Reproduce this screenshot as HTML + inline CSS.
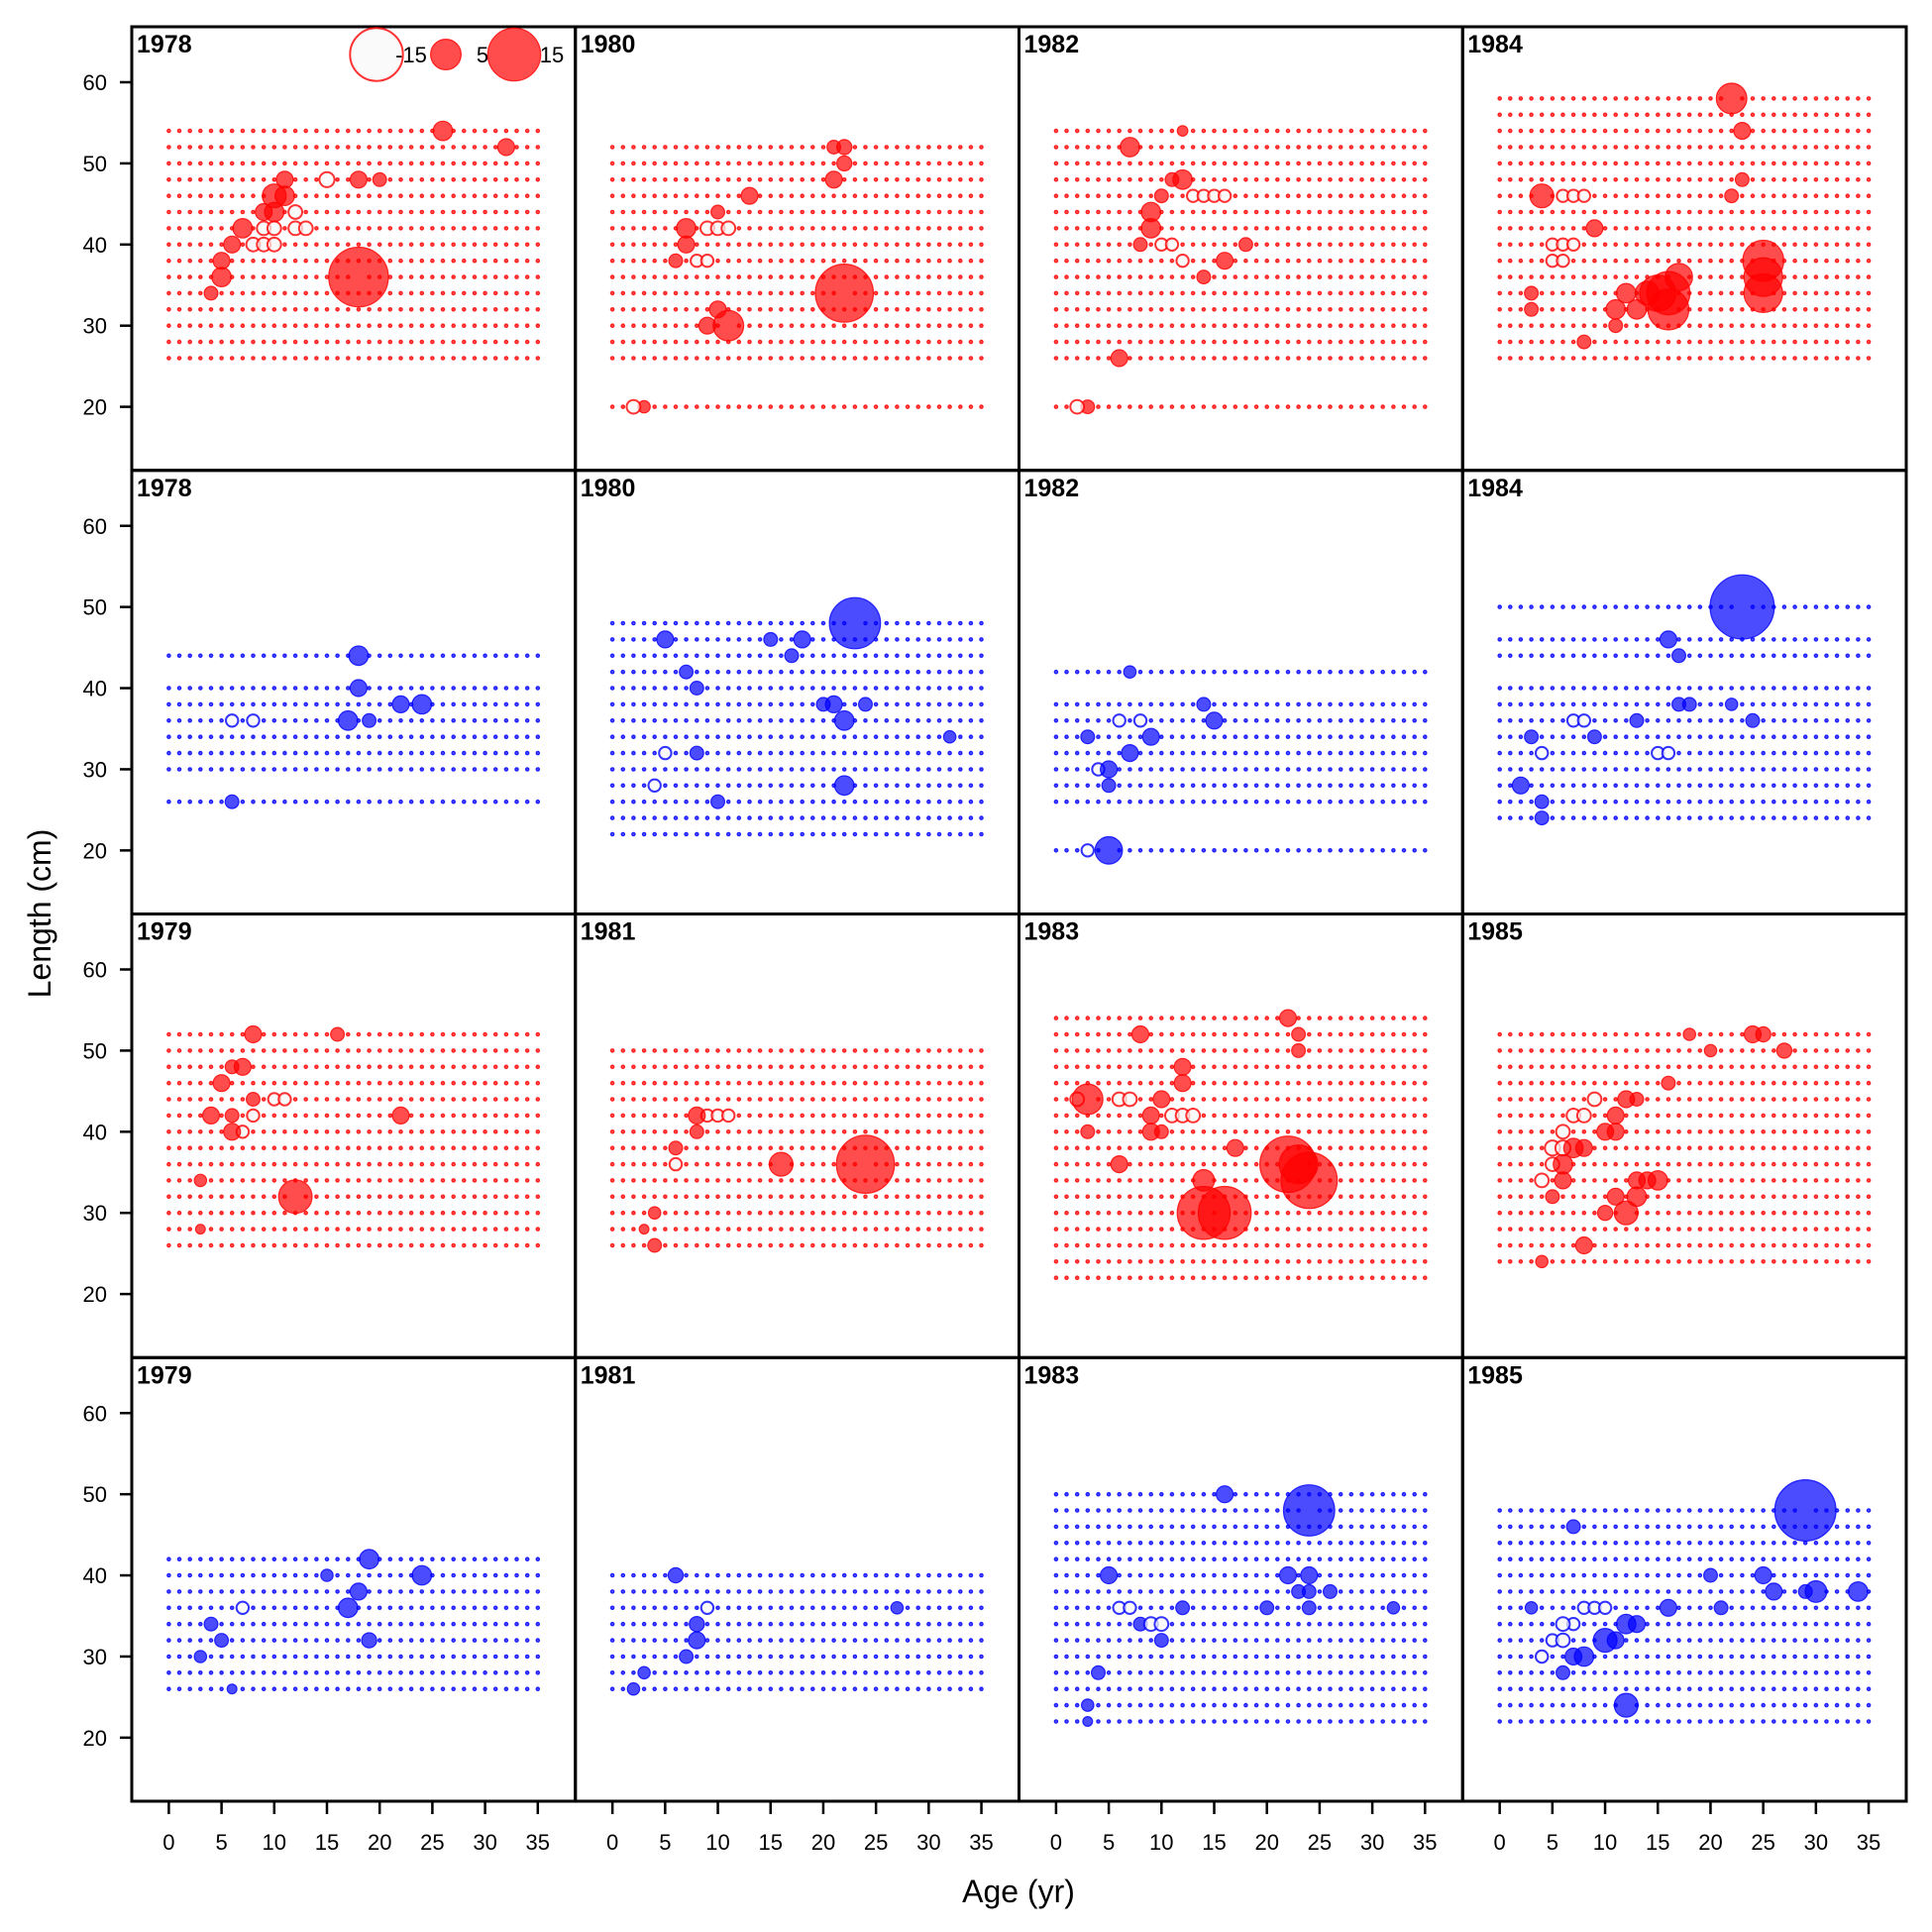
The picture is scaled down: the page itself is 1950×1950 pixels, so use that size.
<!DOCTYPE html>
<html><head><meta charset="utf-8"><style>
html,body{margin:0;padding:0;background:#fff;}
svg{display:block;font-family:"Liberation Sans",Arial,sans-serif;}
</style></head><body>
<svg id="chart" width="1950" height="1950" viewBox="0 0 1950 1950" xmlns="http://www.w3.org/2000/svg">
<g id="marks"></g>
<g id="frames"></g>
<g id="axes"></g>
<text x="1028" y="1920" font-size="32" text-anchor="middle">Age (yr)</text>
<text x="0" y="0" font-size="32" text-anchor="middle" transform="translate(51,922) rotate(-90)">Length (cm)</text>
</svg>
<script>
const panelYears = ["1978","1980","1982","1984","1978","1980","1982","1984","1979","1981","1983","1985","1979","1981","1983","1985"];
const panelColors = ["r","r","r","r","b","b","b","b","r","r","r","r","b","b","b","b"];
function rng(a,b){const o=[];for(let v=a;v<=b;v+=2)o.push(v);return o;}
const panelLengths = [
 rng(26,54), [20].concat(rng(26,52)), [20].concat(rng(26,54)), rng(26,58),
 [26,30,32,34,36,38,40,44], rng(22,48), [20,26,28,30,32,34,36,38,42], [24,26,28,30,32,34,36,38,40,44,46,50],
 rng(26,52), rng(26,50), rng(22,54), rng(24,52),
 rng(26,42), rng(26,40), rng(22,50), rng(22,48)
];
const panelBubbles = [
 [[18,36,19],[26,54,2],[32,52,1.5],[11,46,2],[10,46,3],[7,42,2],[9,44,1.5],[10,44,2],[5,36,2],[5,38,1.5],[6,40,1.5],[4,34,1],[11,48,1.5],[18,48,1.5],[20,48,1],[9,42,-1],[10,42,-1],[12,42,-1],[13,42,-1],[8,40,-1],[9,40,-1],[10,40,-1],[12,44,-1],[15,48,-1.2]],
 [[22,34,18],[11,30,5],[9,30,1.5],[10,32,1.5],[7,42,2],[7,40,1.5],[10,44,1],[13,46,1.5],[21,48,1.5],[22,50,1.2],[22,52,1.2],[21,52,1],[6,38,1],[2,20,-1],[3,20,0.8],[9,42,-1],[10,42,-1],[11,42,-1],[8,38,-0.8],[9,38,-0.8]],
 [[7,52,2],[12,48,2],[11,48,1],[9,44,2],[9,42,2],[8,40,1],[14,36,1],[16,38,1.5],[18,40,1],[6,26,1.5],[3,20,1],[2,20,-1],[10,46,1],[12,54,0.6],[13,46,-0.8],[14,46,-0.8],[15,46,-0.8],[16,46,-0.8],[10,40,-0.8],[11,40,-0.8],[12,38,-0.8]],
 [[22,58,5],[23,54,1.5],[4,46,3],[25,38,9],[25,36,8],[25,34,8],[16,34,10],[16,32,9],[15,34,7],[17,36,4],[14,34,3],[11,32,2],[11,30,1],[8,28,1],[13,32,2],[3,34,1],[3,32,1],[9,42,1.5],[12,34,2],[23,48,1],[22,46,1],[6,46,-0.8],[7,46,-0.8],[8,46,-0.8],[5,40,-0.8],[6,40,-0.8],[7,40,-0.8],[5,38,-0.8],[6,38,-0.8]],
 [[18,44,2],[18,40,1.5],[17,36,2],[22,38,1.5],[24,38,2],[6,26,1],[19,36,1],[6,36,-0.8],[8,36,-0.8]],
 [[23,48,14],[5,46,1.5],[15,46,1],[18,46,1.5],[17,44,1],[7,42,1],[8,40,1],[21,38,1.5],[22,36,2],[24,38,1],[22,28,2],[10,26,1],[8,32,1],[32,34,0.8],[20,38,1],[4,28,-0.8],[5,32,-0.8]],
 [[5,20,4],[7,42,0.8],[7,32,1.5],[9,34,1.5],[5,30,1.5],[5,28,1],[15,36,1.5],[14,38,1],[3,34,1],[3,20,-0.8],[6,36,-0.8],[8,36,-0.8],[4,30,-0.8]],
 [[23,50,22],[16,46,1.5],[17,44,1],[18,38,1],[17,38,1],[22,38,0.8],[24,36,1],[13,36,1],[9,34,1],[2,28,1.5],[4,26,1],[4,24,1],[3,34,1],[7,36,-0.8],[8,36,-0.8],[15,32,-0.8],[16,32,-0.8],[4,32,-0.8]],
 [[12,32,6],[22,42,1.5],[8,52,1.5],[7,48,1.5],[6,48,1],[5,46,1.5],[4,42,1.5],[6,42,1],[6,40,1.5],[8,44,1],[16,52,1],[3,34,0.8],[3,28,0.5],[7,40,-0.8],[10,44,-0.8],[11,44,-0.8],[8,42,-0.8]],
 [[24,36,18],[16,36,3],[8,42,1.5],[8,40,1],[6,38,1],[4,30,0.8],[4,26,1],[3,28,0.5],[9,42,-0.8],[10,42,-0.8],[11,42,-0.8],[6,36,-0.8]],
 [[22,36,17],[24,34,17],[23,36,8],[14,30,15],[16,30,15],[3,44,5],[14,34,2.5],[17,38,1.5],[8,52,1.5],[22,54,1.5],[10,44,1.5],[9,42,1.5],[9,40,1.5],[12,46,1.5],[6,36,1.5],[3,40,1],[10,40,1],[23,50,1],[23,52,1],[12,48,1.5],[2,44,-1],[6,44,-1],[7,44,-1],[11,42,-1],[12,42,-1],[13,42,-1]],
 [[8,26,1.5],[12,30,3],[10,30,1.2],[11,32,1.5],[13,32,2],[15,34,2],[13,34,1.5],[14,34,1.5],[6,36,2],[6,34,1.5],[7,38,2],[8,38,1.5],[5,32,1],[11,40,1.5],[10,40,1.5],[11,42,1.5],[12,44,1.5],[13,44,1],[16,46,1],[24,52,1.5],[25,52,1.2],[27,50,1.2],[20,50,0.8],[18,52,0.8],[4,24,0.8],[5,38,-1.2],[6,40,-1],[7,42,-1],[8,42,-1],[9,44,-1],[5,36,-1],[4,34,-1],[6,38,-1.2]],
 [[19,42,2],[24,40,2],[18,38,1.5],[17,36,2],[19,32,1.2],[15,40,0.8],[4,34,1],[5,32,1],[3,30,0.8],[6,26,0.5],[7,36,-0.8]],
 [[6,40,1.2],[8,32,1.5],[8,34,1.2],[27,36,0.8],[7,30,1],[3,28,0.8],[2,26,0.8],[9,36,-0.8]],
 [[24,48,14],[16,50,1.5],[5,40,1.5],[22,40,1.5],[24,40,1.5],[26,38,1],[23,38,1],[24,38,1],[32,36,0.8],[20,36,1],[24,36,1],[12,36,1],[8,34,1],[10,32,1],[4,28,1],[3,24,0.8],[3,22,0.5],[9,34,-1],[10,34,-1],[6,36,-0.8],[7,36,-0.8]],
 [[29,48,20],[7,46,1],[12,24,3],[25,40,1.5],[20,40,1],[26,38,1.5],[30,38,2.5],[34,38,2],[29,38,1],[16,36,1.5],[21,36,1],[10,32,3],[11,32,1.5],[12,34,2],[13,34,1.5],[8,30,2],[7,30,1.5],[6,28,1],[3,36,0.8],[4,30,-0.8],[5,32,-0.8],[6,32,-1],[6,34,-1],[7,34,-0.8],[8,36,-0.8],[9,36,-0.8],[10,36,-0.8]]
];
const xTicks = [0,5,10,15,20,25,30,35];
const yTicks = [20,30,40,50,60];
const legendValues = [-15,5,15];

const NS="http://www.w3.org/2000/svg";
const colLeft=[133,580.75,1028.5,1476.25], rowTop=[27,474.75,922.5,1370.25], PW=447.75, PH=447.75;
function xS(c,age){return colLeft[c]+37.4+age*10.64;}
function yS(r,len){return rowTop[r]+56+(60-len)*8.19;}
function rad(v){return Math.max(1.7,6.9*Math.sqrt(Math.abs(v)));}
const marks=document.getElementById('marks'), frames=document.getElementById('frames'), axes=document.getElementById('axes');
function mk(tag,attrs,parent){const e=document.createElementNS(NS,tag);for(const k in attrs)e.setAttribute(k,attrs[k]);parent.appendChild(e);return e;}
const COL={r:["#ff0000","rgba(255,0,0,0.7)"],b:["#0000ff","rgba(0,0,255,0.7)"]};
function bubble(parent,x,y,v,c){
  const neg=v<0;
  return mk('circle',{cx:x.toFixed(1),cy:y.toFixed(1),r:rad(v).toFixed(1),fill:neg?"rgba(248,248,248,0.7)":COL[c][1],stroke:COL[c][0],'stroke-width':neg?2:1.2,'stroke-opacity':0.8},parent);
}
for(let p=0;p<16;p++){
  const r=Math.floor(p/4), c=p%4, color=panelColors[p];
  const g=mk('g',{},marks);
  
  
  const big={};
  panelBubbles[p].forEach(b=>{big[b[0]+'_'+b[1]]=1;});
  panelLengths[p].forEach(len=>{
    for(let a=0;a<=35;a++){
      if(big[a+'_'+len])continue;
      const d=bubble(g,xS(c,a),yS(r,len),0.05,color);
      
      
    }
  });
  panelBubbles[p].slice().sort((a,b)=>Math.abs(a[2])-Math.abs(b[2])).forEach(b=>{
    const e=bubble(g,xS(c,b[0]),yS(r,b[1]),b[2],color);
    
    
  });
  const fr=mk('rect',{x:colLeft[c],y:rowTop[r],width:PW,height:PH,fill:'none',stroke:'#000','stroke-width':3},frames);
  
  
  const t=mk('text',{x:colLeft[c]+5,y:rowTop[r]+26,'font-size':25,'font-weight':'bold'},frames);
  t.textContent=panelYears[p];
  
  
}
const legX=[380,450,519], legLX=[415,487,557];
legendValues.forEach((v,i)=>{
  const e=bubble(frames,legX[i],55,v,'r');
  
  
  const t=mk('text',{x:legLX[i],y:63,'font-size':22,'text-anchor':'middle'},frames);
  t.textContent=String(v);
  
  
});
for(let r=0;r<4;r++){
  yTicks.forEach(v=>{
    const y=yS(r,v);
    const l=mk('line',{x1:121,x2:133,y1:y,y2:y,stroke:'#000','stroke-width':2.5},axes);
    
    
    const t=mk('text',{x:108,y:y+8,'font-size':22,'text-anchor':'end'},axes);
    t.textContent=String(v);
    
    
  });
}
for(let c=0;c<4;c++){
  xTicks.forEach(v=>{
    const x=xS(c,v);
    const l=mk('line',{x1:x,x2:x,y1:1818,y2:1831,stroke:'#000','stroke-width':2.5},axes);
    
    
    const t=mk('text',{x:x,y:1867,'font-size':22,'text-anchor':'middle'},axes);
    t.textContent=String(v);
    
    
  });
}
</script>
</body></html>
